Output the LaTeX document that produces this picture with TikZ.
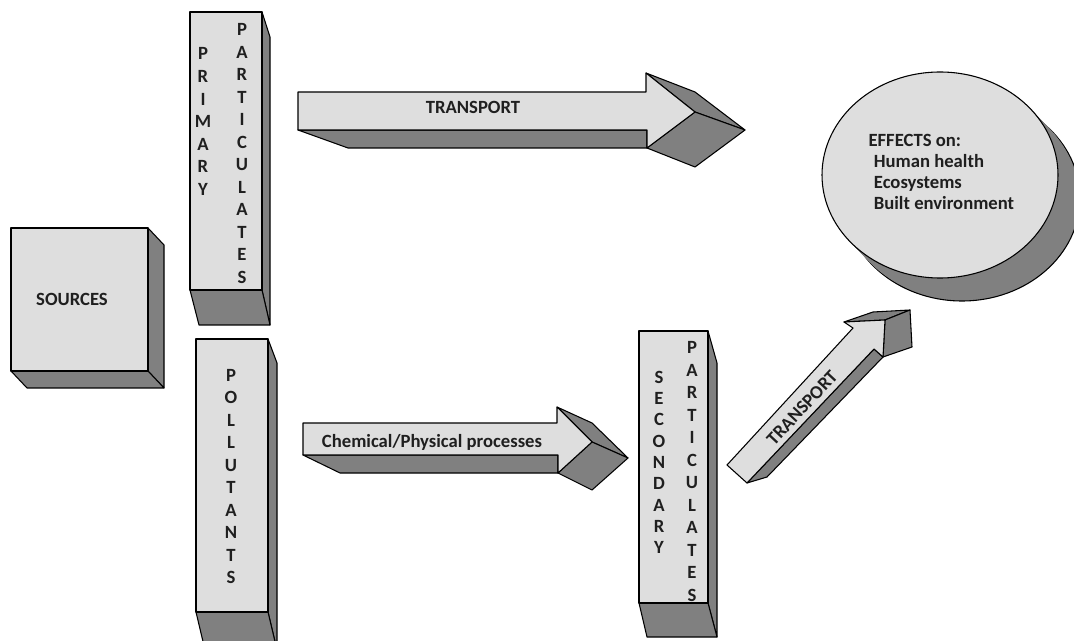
\documentclass[tikz,border=0pt]{standalone}
\usepackage{fontspec}
\setmainfont{Carlito}
\definecolor{facelight}{RGB}{222,222,222}
\definecolor{facedark}{RGB}{128,128,128}
\begin{document}
\begin{tikzpicture}[x=0.75pt, y=-0.75pt, line join=round, line width=0.8pt,
  lightface/.style={fill=facelight, draw=black},
  darkface/.style={fill=facedark, draw=black},
  lbl/.style={font=\fontsize{14}{17}\selectfont\bfseries, text=black!88, inner sep=0pt},
  column/.style={lbl, align=center, font=\fontsize{14}{16.9}\selectfont\bfseries}]
\useasboundingbox (0,0) rectangle (1074,641);
\clip (0,0) rectangle (1074,641);
% sources block
\draw[darkface] (148,228) -- (164,245) -- (164,388) -- (148,371) -- cycle;
\draw[darkface] (11,371) -- (148,371) -- (164,388) -- (27,388) -- cycle;
\draw[lightface] (11,228) rectangle (148,371);
\node[lbl] (sources) at (72,299) {SOURCES};
% primary particulates column
\draw[darkface] (262,12) -- (270,37) -- (270,325) -- (262,290) -- cycle;
\draw[darkface] (190,290) -- (262,290) -- (270,325) -- (199,325) -- cycle;
\draw[lightface] (190,12) rectangle (262,290);
\node[column] (primary) at (203,121.5) {P\\R\\I\\M\\A\\R\\Y};
\node[column] (partA) at (242,153.5) {P\\A\\R\\T\\I\\C\\U\\L\\A\\T\\E\\S};
% pollutants column
\draw[darkface] (268,339) -- (277,363) -- (277,650) -- (268,612) -- cycle;
\draw[darkface] (196,612) -- (268,612) -- (277,650) -- (205,650) -- cycle;
\draw[lightface] (196,339) rectangle (268,612);
\node[column] (pollutants) at (231,476.5) {P\\O\\L\\L\\U\\T\\A\\N\\T\\S};
% secondary particulates column
\draw[darkface] (708,331) -- (717,363) -- (717,637) -- (708,603) -- cycle;
\draw[darkface] (639,603) -- (708,603) -- (717,637) -- (647,637) -- cycle;
\draw[lightface] (639,331) rectangle (708,603);
\node[column, font=\fontsize{14}{16}\selectfont\bfseries] (secondary) at (659,462.5) {S\\E\\C\\O\\N\\D\\A\\R\\Y};
\node[column] (partB) at (692,471.5) {P\\A\\R\\T\\I\\C\\U\\L\\A\\T\\E\\S};
% upper transport arrow
\draw[darkface] (298,130) -- (348,148) -- (647,148) -- (647,130) -- cycle;
\draw[darkface] (646,73) -- (695,92) -- (745,130) -- (695,112) -- cycle;
\draw[darkface] (647,148) -- (695,167) -- (745,130) -- (695,112) -- cycle;
\draw[lightface] (298,92) -- (646,92) -- (646,73) -- (695,112) -- (647,148) -- (647,130) -- (298,130) -- cycle;
\node[lbl] (transportA) at (473,107) {TRANSPORT};
% chemical/physical arrow
\draw[darkface] (303,455) -- (340,473) -- (558,473) -- (558,455) -- cycle;
\draw[darkface] (557,407) -- (592,423) -- (628,458) -- (592,442) -- cycle;
\draw[darkface] (558,473) -- (592,490) -- (628,458) -- (592,442) -- cycle;
\draw[lightface] (303,423) -- (557,423) -- (557,407) -- (592,442) -- (558,473) -- (558,455) -- (303,455) -- cycle;
\node[lbl] (chem) at (432,442) {Chemical/Physical processes};
% rising transport arrow
\draw[darkface] (747,483) -- (874,349) -- (883,357) -- (767,477) -- cycle;
\draw[darkface] (844,322) -- (873,312) -- (910,310) -- (885,320) -- cycle;
\draw[darkface] (885,320) -- (910,310) -- (912,347) -- (883,357) -- cycle;
\draw[lightface] (727,465) -- (853,328) -- (844,322) -- (885,320) -- (883,357) -- (874,349) -- (747,483) -- cycle;
\node[lbl, rotate=47] (transportB) at (802,408) {TRANSPORT};
% effects disc
\draw[darkface] (962,198) ellipse [x radius=118, y radius=103];
\foreach \t in {0,0.1,...,0.95}
  \fill[facedark] (940+22*\t,175+23*\t) ellipse [x radius=118, y radius=103];
\draw[lightface] (940,175) ellipse [x radius=118, y radius=103];
\node[lbl, align=left, anchor=north west, font=\fontsize{14}{15.75}\selectfont\bfseries] (effects) at (868,134)
  {EFFECTS on:\\\hspace{4pt}Human health\\\hspace{4pt}Ecosystems\\\hspace{4pt}Built environment};
\end{tikzpicture}
\end{document}
